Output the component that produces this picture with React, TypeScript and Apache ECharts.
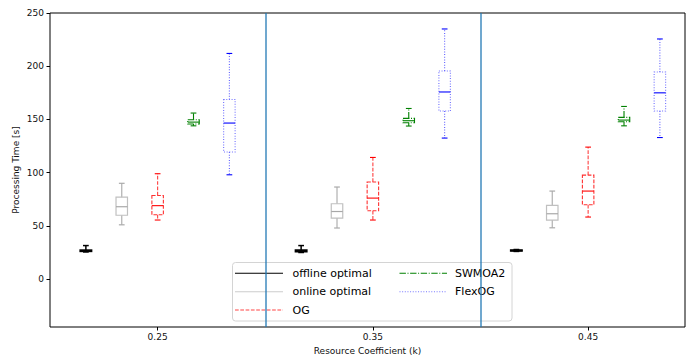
import React, { useEffect, useRef } from "react";
import * as echarts from "echarts";

// Tick labels of the resource coefficient groups (x positions 3, 9, 15)
const groupLabels = ["0.25", "0.35", "0.45"];
const yTicks = [0, 50, 100, 150, 200, 250];
const seriesNames = ["offline optimal", "online optimal", "OG", "SWMOA2", "FlexOG"];

// Each entry: [min, Q1, median, Q3, max] for groups 0.25, 0.35, 0.45
const offlineOptimal = [
  [25.5, 26, 26.6, 27.3, 31.5],
  [25, 25.8, 26.6, 27.3, 31.5],
  [26, 26.3, 26.8, 27.3, 27.8],
];
const onlineOptimal = [
  [51, 60, 68, 77, 90],
  [48, 57.3, 63.5, 70.8, 86.5],
  [48.2, 55.5, 61.4, 69.2, 82.7],
];
const og = [
  [55.5, 60.4, 69, 78.6, 99],
  [55.5, 64.2, 76.1, 91.2, 114.3],
  [58.3, 69.8, 82.7, 97.7, 124],
];
const swmoa2 = [
  [144, 145.7, 147.5, 149.7, 156],
  [143.8, 146.9, 148.8, 151, 160.3],
  [144, 147.8, 149.4, 151.9, 162.2],
];
const flexOG = [
  [98, 119.4, 146.6, 168.8, 212],
  [132.5, 157.9, 175.8, 195.5, 235],
  [133, 157.9, 175, 194.5, 225.6],
];

const allSeries = [offlineOptimal, onlineOptimal, og, swmoa2, flexOG];

const styles = [
  { box: "#000000", whisker: "#000000", cap: "#000000", median: "#000000", dash: null as any, width: 1.5, legend: "#000000" },
  { box: "#c0c0c0", whisker: "#b0b0b0", cap: "#aaaaaa", median: "#a8a8a8", dash: null as any, width: 1.2, legend: "#cccccc" },
  { box: "#ff3030", whisker: "#ff4040", cap: "#ff0000", median: "#ff0000", dash: [3.7, 1.6], width: 1.1, legend: "#ff4444" },
  { box: "#008000", whisker: "#008000", cap: "#008000", median: "#008000", dash: [6.4, 1.6, 1, 1.6], width: 1.1, legend: "#008000" },
  { box: "#7070ff", whisker: "#6060ff", cap: "#0000ff", median: "#0000ff", dash: [1, 1.65], width: 1.1, legend: "#7777ff" },
];

const FONT = "DejaVu Sans";

export default function App() {
  const ref = useRef<HTMLDivElement>(null);

  useEffect(() => {
    document.body.style.margin = "0";
    const chart = echarts.init(ref.current!, null, { renderer: "svg" });

    const boxSeries = allSeries.map((groups, s) => {
      const st = styles[s];
      const data = groups.map((v, g) => [g * 6 + s + 1, ...v]);
      const series: any = {
        type: "custom",
        name: seriesNames[s],
        data,
        encode: { x: 0, y: [1, 2, 3, 4, 5] },
        clip: true,
        renderItem: (params: any, api: any) => {
          const x = api.value(0);
          const p = (i: number) => api.coord([x, api.value(i)]);
          const [cx, yMin] = p(1);
          const yQ1 = p(2)[1];
          const yMed = p(3)[1];
          const yQ3 = p(4)[1];
          const yMax = p(5)[1];
          const hw = api.size([0.32, 0])[0] / 2;
          const cw = hw / 2;
          const dashed = {
            stroke: st.whisker,
            lineWidth: st.width,
            lineDash: st.dash || undefined,
            fill: "transparent",
          };
          return {
            type: "group",
            children: [
              { type: "line", shape: { x1: cx, y1: yQ1, x2: cx, y2: yMin }, style: dashed },
              { type: "line", shape: { x1: cx, y1: yQ3, x2: cx, y2: yMax }, style: dashed },
              {
                type: "rect",
                shape: { x: cx - hw, y: yQ3, width: 2 * hw, height: yQ1 - yQ3 },
                style: { ...dashed, stroke: st.box },
              },
              { type: "line", shape: { x1: cx - cw, y1: yMin, x2: cx + cw, y2: yMin }, style: { stroke: st.cap, lineWidth: st.width } },
              { type: "line", shape: { x1: cx - cw, y1: yMax, x2: cx + cw, y2: yMax }, style: { stroke: st.cap, lineWidth: st.width } },
              { type: "line", shape: { x1: cx - hw, y1: yMed, x2: cx + hw, y2: yMed }, style: { stroke: st.median, lineWidth: st.width } },
            ],
          };
        },
      };
      if (s === 0) {
        series.markLine = {
          silent: true,
          symbol: "none",
          label: { show: false },
          lineStyle: { color: "#1f77b4", width: 1.5, type: "solid", opacity: 0.85 },
          data: [{ xAxis: 6 }, { xAxis: 12 }],
        };
      }
      return series;
    });

    // legend built as graphic elements
    const lx0 = 235, lx1 = 283, ltx = 292.5;
    const rx0 = 399.5, rx1 = 447, rtx = 455;
    const rows = [273.3, 291.7, 310];
    const legendPos = [
      [lx0, lx1, ltx, rows[0]],
      [lx0, lx1, ltx, rows[1]],
      [lx0, lx1, ltx, rows[2]],
      [rx0, rx1, rtx, rows[0]],
      [rx0, rx1, rtx, rows[1]],
    ];
    const legendChildren: any[] = [
      {
        type: "rect",
        shape: { x: 232.5, y: 262.5, width: 279.5, height: 58.5, r: 3 },
        style: { fill: "rgba(255,255,255,0.8)", stroke: "#d4d4d4", lineWidth: 1 },
      },
    ];
    seriesNames.forEach((name, i) => {
      const [a, b, t, y] = legendPos[i];
      legendChildren.push({
        type: "line",
        shape: { x1: a, y1: y, x2: b, y2: y },
        style: { stroke: styles[i].legend, lineWidth: 1.1, lineDash: styles[i].dash || undefined },
      });
      legendChildren.push({
        type: "text",
        x: t,
        y: y,
        style: {
          text: name,
          fill: "#000",
          fontSize: 11,
          fontFamily: FONT,
          verticalAlign: "middle",
          align: "left",
        },
      });
    });

    chart.setOption({
      animation: false,
      backgroundColor: "#ffffff",
      grid: {
        left: 50,
        right: 2,
        top: 13,
        bottom: 29,
        show: true,
        borderColor: "#000",
        borderWidth: 1,
        backgroundColor: "transparent",
        outerBoundsMode: "none",
        containLabel: false,
      },
      xAxis: {
        type: "value",
        min: 0,
        max: 17.7,
        name: "Resource Coefficient (k)",
        nameLocation: "middle",
        nameGap: 19,
        nameMoveOverlap: false,
        nameTextStyle: { fontFamily: FONT, fontSize: 9, color: "#111" },
        axisLine: { show: false, onZero: false },
        splitLine: { show: false },
        axisTick: { show: true, length: 3.5, lineStyle: { color: "#000" }, customValues: [3, 9, 15] },
        axisLabel: {
          customValues: [3, 9, 15],
          formatter: (v: number) => groupLabels[Math.round((v - 3) / 6)],
          fontFamily: FONT,
          fontSize: 9,
          color: "#111",
          margin: 5,
        },
      },
      yAxis: {
        type: "value",
        min: -45,
        max: 250,
        name: "Processing Time [s]",
        nameLocation: "middle",
        nameGap: 30,
        nameMoveOverlap: false,
        nameTextStyle: { fontFamily: FONT, fontSize: 9, color: "#111" },
        axisLine: { show: false, onZero: false },
        splitLine: { show: false },
        axisTick: { show: true, length: 3.5, lineStyle: { color: "#000" }, customValues: yTicks },
        axisLabel: {
          customValues: yTicks,
          fontFamily: FONT,
          fontSize: 9,
          color: "#111",
          margin: 6,
        },
      },
      series: boxSeries,
      graphic: [{ type: "group", children: legendChildren, z: 100 }],
    });

    return () => chart.dispose();
  }, []);

  return (
    <div
      ref={ref}
      style={{ position: "absolute", left: 0, top: 0, width: 687, height: 356 }}
    />
  );
}
